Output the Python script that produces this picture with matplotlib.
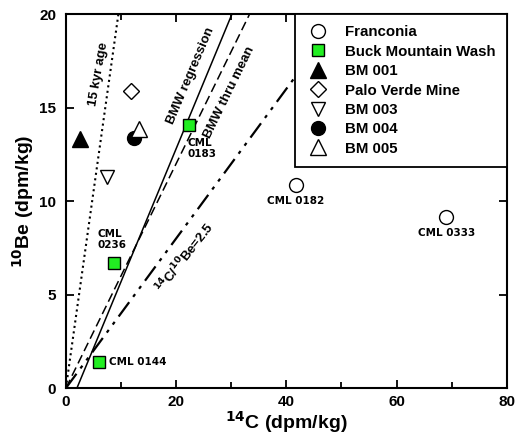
import numpy as np
import matplotlib
matplotlib.use("Agg")
import matplotlib.pyplot as plt
from matplotlib.ticker import MultipleLocator

plt.rcParams['font.family'] = ['Liberation Sans', 'DejaVu Sans']
plt.rcParams['font.weight'] = 'bold'

# ── data (14C, 10Be in dpm/kg) ─────────────────
franconia_c = [41.7, 69.0]
franconia_be = [10.85, 9.15]
franconia_lbl = ["CML 0182", "CML 0333"]

bmw_c = [22.3, 8.8, 6.0]
bmw_be = [14.05, 6.7, 1.4]
bmw_lbl = ["CML\n0183", "CML\n0236", "CML 0144"]

bm001 = (2.6, 13.3)
palo_verde = (11.9, 15.9)
bm003 = (7.4, 11.3)
bm004 = (12.4, 13.4)
bm005 = (13.2, 13.85)

# reference lines: slope, x-intercept
age15_slope = 2.1
bmw_reg_slope, bmw_reg_x0 = 0.711, 2.0
bmw_mean_slope = 0.6
ratio = 2.5

fig = plt.figure(figsize=(5.15, 4.4), dpi=100)
ax = fig.add_axes([0.128, 0.118, 0.856, 0.85])

x = np.linspace(0, 80, 400)
ax.plot(x, age15_slope * x, color="k", ls=":", lw=1.5, zorder=1)
ax.plot(x, bmw_reg_slope * (x - bmw_reg_x0), color="k", ls="-", lw=1.1, zorder=1)
ax.plot(x, bmw_mean_slope * x, color="k", ls=(0, (6, 3)), lw=1.1, zorder=1)
ax.plot(x, x / ratio, color="k", ls=(0, (8, 3, 1.5, 3, 1.5, 3)), lw=1.6, zorder=1)

ms = 10
ax.plot(franconia_c, franconia_be, "o", mfc="white", mec="k", ms=ms, mew=1,
        ls="none", label="Franconia", zorder=3)
ax.plot(bmw_c, bmw_be, "s", mfc="#22ee22", mec="k", ms=ms - 1, mew=1,
        ls="none", label="Buck Mountain Wash", zorder=3)
ax.plot(*bm001, "^", mfc="k", mec="k", ms=ms + 1, ls="none", label="BM 001", zorder=3)
ax.plot(*palo_verde, "D", mfc="white", mec="k", ms=ms - 2, mew=1, ls="none",
        label="Palo Verde Mine", zorder=3)
ax.plot(*bm003, "v", mfc="white", mec="k", ms=ms, mew=1, ls="none",
        label="BM 003", zorder=3)
ax.plot(*bm004, "o", mfc="k", mec="k", ms=ms, ls="none", label="BM 004", zorder=3)
ax.plot(*bm005, "^", mfc="white", mec="k", ms=ms + 1, mew=1, ls="none",
        label="BM 005", zorder=3)

# sample labels
fs = 7.5
ax.text(franconia_c[0], franconia_be[0] - 0.6, franconia_lbl[0], ha="center",
        va="top", fontsize=fs, family="DejaVu Sans", weight="bold")
ax.text(franconia_c[1], franconia_be[1] - 0.6, franconia_lbl[1], ha="center",
        va="top", fontsize=fs, family="DejaVu Sans", weight="bold")
ax.text(bmw_c[0] - 0.3, bmw_be[0] - 0.7, bmw_lbl[0], ha="left", va="top",
        fontsize=fs, family="DejaVu Sans", weight="bold", linespacing=1.1)
ax.text(bmw_c[1] - 3.0, bmw_be[1] + 0.7, bmw_lbl[1], ha="left", va="bottom",
        fontsize=fs, family="DejaVu Sans", weight="bold", linespacing=1.1)
ax.text(bmw_c[2] + 1.8, bmw_be[2], bmw_lbl[2], ha="left", va="center",
        fontsize=fs, family="DejaVu Sans", weight="bold")

# line labels
ax.text(5.9, 16.8, "15 kyr age", rotation=80, ha="center", va="center", fontsize=9.5)
ax.text(22.6, 16.7, "BMW regression", rotation=67, ha="center", va="center", fontsize=9.5)
ax.text(29.6, 15.8, "BMW thru mean", rotation=64, ha="center", va="center", fontsize=9.5)
ax.text(21.6, 7.0, r"$^{14}$C/$^{10}$Be=2.5", rotation=52, ha="center",
        va="center", fontsize=9.5)

ax.set_xlim(0, 80)
ax.set_ylim(0, 20)
ax.xaxis.set_major_locator(MultipleLocator(20))
ax.xaxis.set_minor_locator(MultipleLocator(10))
ax.yaxis.set_major_locator(MultipleLocator(5))
ax.tick_params(which="both", direction="in", top=True, right=True, width=1.3)
ax.tick_params(which="major", length=6, labelsize=11)
ax.tick_params(axis="x", which="major", pad=5)
ax.tick_params(axis="y", which="major", pad=7)
ax.tick_params(which="minor", length=4)
for lab in ax.get_xticklabels() + ax.get_yticklabels():
    lab.set_fontweight("bold")
for sp in ax.spines.values():
    sp.set_linewidth(1.5)

ax.set_xlabel(r"$^{\mathbf{14}}$C (dpm/kg)", fontsize=14, weight="bold", labelpad=0)
ax.set_ylabel(r"$^{\mathbf{10}}$Be (dpm/kg)", fontsize=14, weight="bold", labelpad=2)

leg = ax.legend(loc="upper right", bbox_to_anchor=(1.0, 1.0), frameon=True,
                fancybox=False, edgecolor="k", framealpha=1, fontsize=10.8,
                handletextpad=1.0, borderpad=0.75, labelspacing=0.36,
                borderaxespad=0, handlelength=1.6)
leg.get_frame().set_linewidth(1.3)
leg.set_zorder(5)

fig.savefig("out.png", dpi=100)
